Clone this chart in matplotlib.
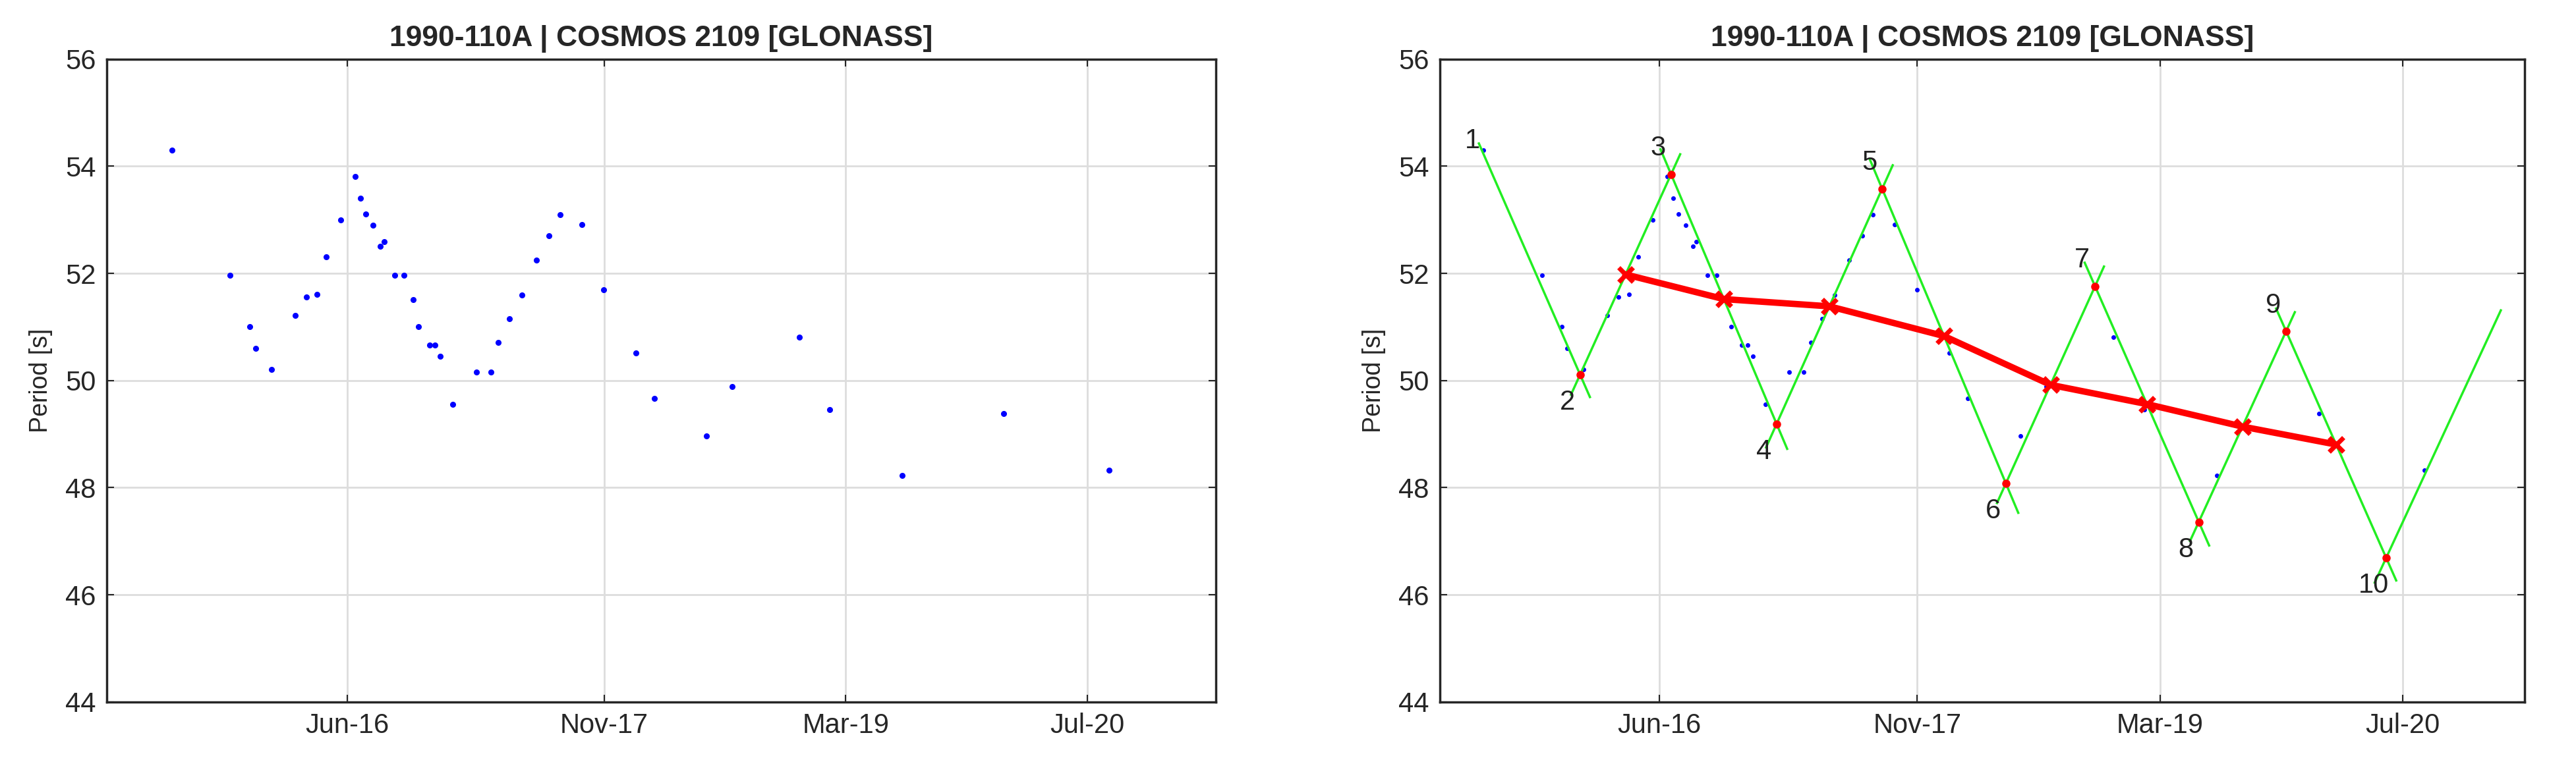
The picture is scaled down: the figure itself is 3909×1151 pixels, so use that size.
import numpy as np
import matplotlib
matplotlib.use("Agg")
import matplotlib.pyplot as plt

plt.rcParams['font.family'] = ['Liberation Sans', 'DejaVu Sans']

# наблюдения: время (десятичный год) и период [с]
t_obs = [2015.45, 2015.77, 2015.88, 2015.91, 2016.00, 2016.13, 2016.19, 2016.25,
         2016.30, 2016.38, 2016.46, 2016.49, 2016.52, 2016.56, 2016.60, 2016.62,
         2016.68, 2016.73, 2016.78, 2016.81, 2016.87, 2016.90, 2016.93, 2017.00,
         2017.13, 2017.21, 2017.25, 2017.31, 2017.38, 2017.46, 2017.53, 2017.59,
         2017.71, 2017.83, 2018.01, 2018.11, 2018.40, 2018.54, 2018.91, 2019.08,
         2019.48, 2020.04, 2020.62]
p_obs = [54.30, 51.96, 51.01, 50.60, 50.21, 51.21, 51.56, 51.61,
         52.31, 53.00, 53.81, 53.40, 53.11, 52.90, 52.50, 52.59,
         51.96, 51.96, 51.51, 51.01, 50.66, 50.66, 50.45, 49.55,
         50.16, 50.16, 50.71, 51.15, 51.60, 52.25, 52.70, 53.10,
         52.91, 51.69, 50.52, 49.66, 48.96, 49.89, 50.81, 49.46,
         48.23, 49.38, 48.33]

# экстремумы (1..10) и конечная точка последней зелёной линии
t_ext = [2015.44, 2015.98, 2016.48, 2017.06, 2017.64, 2018.32, 2018.81, 2019.38, 2019.86, 2020.41]
p_ext = [54.30, 50.11, 53.85, 49.19, 53.58, 48.08, 51.76, 47.36, 50.92, 46.69]
t_end, p_end = 2021.04, 51.31

tick_pos = [2016 + 5/12, 2017 + 10/12, 2019 + 2/12, 2020 + 6/12]
tick_lab = ['Jun-16', 'Nov-17', 'Mar-19', 'Jul-20']
title = '1990-110A | COSMOS 2109 [GLONASS]'

fig = plt.figure(figsize=(39.09, 11.51), dpi=100)
ax1 = fig.add_axes([0.0415, 0.074, 0.4305, 0.848])
ax2 = fig.add_axes([0.559, 0.074, 0.421, 0.848])


def style(ax, xlim):
    ax.set_xlim(*xlim)
    ax.set_ylim(44, 56)
    ax.set_yticks(range(44, 57, 2))
    ax.set_xticks(tick_pos)
    ax.set_xticklabels(tick_lab)
    ax.grid(True, color='#dddddd', linewidth=2)
    ax.set_axisbelow(True)
    ax.tick_params(direction='in', labelsize=30, length=8, width=1.5,
                   top=True, right=True, colors='#262626', pad=12)
    for s in ax.spines.values():
        s.set_linewidth(2.5)
        s.set_color('#262626')
    ax.set_ylabel('Period [s]', fontsize=27, color='#262626', labelpad=14)
    ax.set_title(title, fontsize=32, fontweight='bold', color='#262626', pad=14)


# левый график
ax1.plot(t_obs, p_obs, '.', color='blue', markersize=11)
style(ax1, (2015.09, 2021.21))

# правый график
ax2.plot(t_obs, p_obs, '.', color='blue', markersize=8)

anchors_t = t_ext + [t_end]
anchors_p = p_ext + [p_end]
for i in range(len(anchors_t) - 1):
    t0, t1 = anchors_t[i], anchors_t[i + 1]
    p0, p1 = anchors_p[i], anchors_p[i + 1]
    k0 = -0.1 if i > 0 else -0.03
    k1 = 1.1 if i < len(anchors_t) - 2 else 1.0
    ax2.plot([t0 + k0 * (t1 - t0), t0 + k1 * (t1 - t0)],
             [p0 + k0 * (p1 - p0), p0 + k1 * (p1 - p0)],
             color='#22ee22', linewidth=2.5)

# средние между соседними экстремумами
t_mid = [(t_ext[i] + t_ext[i + 1]) / 2 for i in range(1, len(t_ext) - 1)]
p_mid = [(p_ext[i] + p_ext[i + 1]) / 2 for i in range(1, len(p_ext) - 1)]
ax2.plot(t_mid, p_mid, '-x', color='red', linewidth=7, markersize=16,
         markeredgewidth=5)
ax2.plot(t_ext[1:], p_ext[1:], 'o', color='red', markersize=8)

for i, (t, p) in enumerate(zip(t_ext, p_ext)):
    is_max = i % 2 == 0
    off = (-10, -4) if i == 0 else (-14, 14 if is_max else -16)
    ax2.annotate(str(i + 1), (t, p), xytext=off,
                 textcoords='offset points', fontsize=30, color='#222222',
                 ha='center', va='bottom' if is_max else 'top')

style(ax2, (2015.21, 2021.17))

fig.savefig('out.png', dpi=100)
